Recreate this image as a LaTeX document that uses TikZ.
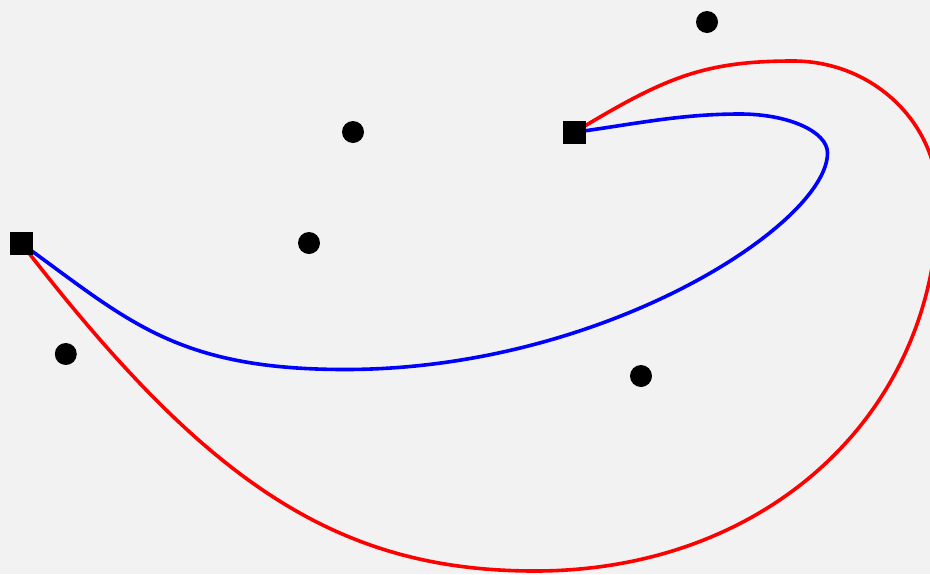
\documentclass[tikz,border=0pt]{standalone}
\usepackage{tikz}
\usetikzlibrary{positioning}
\definecolor{bgGray}{RGB}{242,242,242}

\begin{document}
\begin{tikzpicture}[x=1pt,y=-1pt,
  endsq/.style={fill=black,minimum size=23pt,inner sep=0pt},
  ctrldot/.style={circle,fill=black,minimum size=22pt,inner sep=0pt},
  redpath/.style={draw=red,line width=3.6pt},
  bluepath/.style={draw=blue,line width=3.6pt},
]
\useasboundingbox (0,0) rectangle (930,574);
\clip (0,0) rectangle (930,574);
\fill[bgGray] (0,0) rectangle (930,574);
% end points and helper points
\coordinate (lsq) at (21.5,243.5);
\coordinate (rsq) at (574.3,132.3);
\coordinate (rbot) at (535,571);
\coordinate (rright) at (938,200);
\coordinate (rtop) at (793,61);
\coordinate (bbot) at (345,369.5);
\coordinate (bright) at (827.5,153);
\coordinate (btop) at (740,114);
% curves
\draw[redpath] (lsq) .. controls (204.5,480.5) and (335,571) .. (rbot)
  .. controls (768,571) and (938,412) .. (rright)
  .. controls (938,123) and (873,61) .. (rtop)
  .. controls (703,61) and (664,78) .. (rsq);
\draw[bluepath] (lsq) .. controls (127,319.5) and (175,369.5) .. (bbot)
  .. controls (605,369.5) and (827.5,223) .. (bright)
  .. controls (827.5,131.5) and (788.3,114) .. (btop)
  .. controls (680,114) and (634,124.2) .. (rsq);
\node[endsq] (left) at (lsq) {};
\node[endsq] (right) at (rsq) {};
\foreach \i/\x/\y in {1/353/132,2/309/243,3/65.8/354,4/641/376,5/707/22}
  \node[ctrldot] (d\i) at (\x,\y) {};
\end{tikzpicture}
\end{document}
